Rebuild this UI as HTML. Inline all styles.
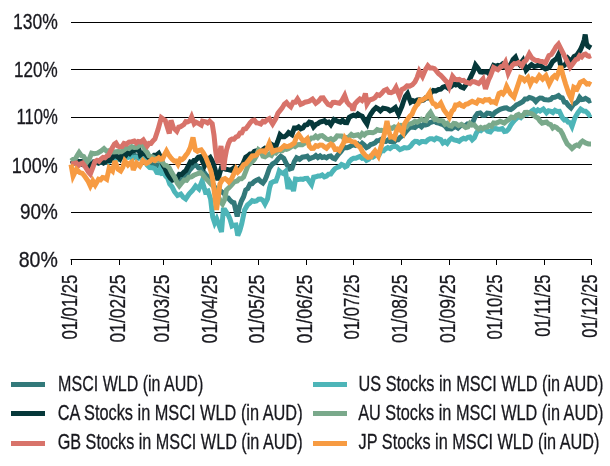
<!DOCTYPE html><html><head><meta charset="utf-8"><style>html,body{margin:0;padding:0;background:#fff;}svg{display:block}text{font-family:"Liberation Sans", "DejaVu Sans", sans-serif;fill:#18181e;stroke:#18181e;stroke-width:0.3px;}</style></head><body>
<svg width="610" height="466" viewBox="0 0 610 466">
<rect width="610" height="466" fill="#fff"/>
<line x1="71" y1="22.5" x2="592" y2="22.5" stroke="#000" stroke-width="1"/>
<line x1="71" y1="69.5" x2="592" y2="69.5" stroke="#000" stroke-width="1"/>
<line x1="71" y1="117.5" x2="592" y2="117.5" stroke="#000" stroke-width="1"/>
<line x1="71" y1="164.5" x2="592" y2="164.5" stroke="#000" stroke-width="1"/>
<line x1="71" y1="212.5" x2="592" y2="212.5" stroke="#000" stroke-width="1"/>
<path d="M71.0,164.0 L73.5,163.4 L76.0,162.0 L78.5,161.4 L81.0,162.0 L83.5,161.7 L86.0,165.0 L88.5,163.9 L91.0,164.0 L93.5,164.2 L96.0,162.0 L98.5,161.7 L101.0,162.0 L103.5,161.8 L106.0,161.0 L108.5,159.0 L111.0,159.5 L113.5,158.2 L116.0,157.5 L118.5,157.3 L121.0,158.0 L123.5,155.7 L126.0,156.0 L128.5,155.1 L131.0,156.0 L133.5,154.5 L136.0,156.0 L138.5,158.1 L141.0,157.5 L143.5,158.8 L146.0,160.0 L148.5,162.1 L151.0,164.0 L153.5,165.5 L156.0,165.0 L158.0,165.9 L160.0,165.5 L163.0,166.0 L165.0,167.3 L167.0,170.0 L169.5,174.4 L172.0,176.0 L174.0,177.2 L176.0,178.0 L178.0,179.9 L180.0,178.6 L182.0,176.5 L184.0,176.0 L187.0,174.3 L189.4,170.4 L191.9,167.5 L194.3,165.0 L196.7,165.6 L198.6,168.1 L200.5,168.5 L203.4,171.4 L205.6,174.5 L207.7,176.7 L210.9,180.0 L214.0,186.0 L216.0,189.1 L218.0,190.0 L220.0,190.6 L222.0,192.0 L224.3,193.6 L226.2,197.3 L228.2,197.9 L230.1,200.4 L232.1,202.2 L234.0,202.7 L237.2,216.5 L239.3,207.1 L241.4,201.0 L243.6,196.7 L245.7,190.0 L247.8,188.6 L250.0,184.0 L252.2,183.6 L254.3,181.5 L256.5,180.2 L258.6,179.3 L260.8,181.6 L262.9,183.0 L265.0,180.0 L266.5,176.5 L269.5,168.0 L272.5,164.0 L275.5,162.3 L278.5,158.5 L280.8,156.3 L283.8,158.5 L286.8,164.5 L289.8,169.0 L292.0,168.3 L294.3,161.5 L296.6,157.8 L299.6,159.3 L302.3,157.2 L305.0,156.8 L307.2,156.1 L309.3,158.9 L311.5,157.9 L313.6,157.2 L315.8,155.5 L317.9,157.5 L320.1,155.9 L322.2,157.5 L324.3,156.8 L326.5,157.9 L328.6,156.3 L330.7,155.9 L332.9,158.2 L335.0,159.0 L337.2,155.8 L339.1,153.5 L341.0,151.5 L343.0,148.6 L345.0,147.5 L347.1,147.8 L349.3,146.9 L351.4,145.7 L353.6,144.8 L355.7,145.5 L357.9,144.0 L360.0,146.1 L362.2,143.3 L364.3,145.1 L366.5,147.6 L368.6,146.5 L370.7,144.5 L372.9,143.9 L375.0,143.0 L377.1,140.7 L379.3,140.5 L381.5,139.2 L383.6,141.4 L385.8,141.5 L387.9,140.1 L390.0,141.5 L392.2,141.2 L394.3,141.7 L396.5,139.4 L398.2,139.6 L400.0,137.5 L403.0,135.5 L406.4,131.0 L408.6,128.5 L410.7,127.2 L412.9,127.0 L415.0,127.6 L417.2,125.7 L419.3,125.0 L421.5,126.8 L423.6,124.5 L425.8,125.0 L427.9,124.3 L430.1,122.6 L432.2,122.0 L434.3,120.8 L436.5,122.6 L438.6,123.0 L440.7,124.0 L442.9,124.6 L445.0,126.0 L447.2,128.8 L449.3,128.7 L451.5,129.0 L453.7,127.5 L455.8,126.6 L458.0,128.0 L460.3,125.9 L462.7,125.4 L465.0,126.0 L467.5,123.9 L470.0,124.5 L472.5,123.0 L475.0,117.0 L477.5,113.5 L480.2,112.9 L482.9,115.5 L485.0,115.3 L487.2,113.0 L489.9,113.3 L492.6,115.0 L495.2,112.3 L497.9,110.7 L500.1,109.4 L502.2,108.7 L504.4,108.0 L506.5,107.9 L508.7,109.1 L510.8,109.5 L512.5,108.5 L514.3,107.0 L516.5,104.8 L518.6,104.0 L520.8,102.8 L522.9,101.5 L525.0,99.0 L527.2,99.0 L529.4,97.4 L531.5,98.0 L533.6,99.1 L535.8,101.5 L537.9,99.2 L540.0,98.0 L542.1,98.1 L544.3,99.5 L546.5,99.8 L548.6,100.0 L550.7,99.4 L552.7,97.5 L554.7,97.3 L556.6,96.5 L558.5,95.6 L560.4,97.4 L562.3,97.9 L564.3,102.0 L566.2,102.5 L568.2,105.3 L571.0,108.0 L573.5,104.4 L575.9,103.0 L577.8,101.3 L579.7,97.4 L581.7,99.6 L583.6,99.4 L585.5,98.3 L587.5,99.5 L589.2,100.9 L591.0,100.2" fill="none" stroke="#32797a" stroke-width="5" stroke-linejoin="miter" stroke-miterlimit="3.2" stroke-linecap="butt"/>
<path d="M71.0,164.0 L73.5,163.9 L76.0,162.0 L78.5,162.1 L81.0,162.0 L83.5,163.1 L86.0,165.0 L88.5,163.5 L91.0,164.0 L93.5,161.9 L96.0,162.0 L98.5,163.3 L101.0,162.0 L103.7,162.2 L106.3,162.3 L108.7,162.1 L111.0,160.0 L113.5,159.4 L116.0,158.0 L118.5,159.4 L121.0,158.0 L124.0,155.5 L126.0,157.1 L128.0,157.4 L130.2,156.0 L132.3,158.8 L134.5,157.4 L136.7,157.3 L138.8,157.2 L141.0,158.0 L142.8,158.1 L144.6,159.5 L147.1,165.1 L149.7,167.5 L152.3,167.7 L154.9,168.8 L156.8,172.5 L158.7,172.7 L160.0,169.5 L161.9,173.5 L163.9,173.1 L165.8,176.2 L167.8,178.4 L169.7,184.0 L172.1,186.8 L174.5,191.7 L177.5,195.5 L180.8,194.0 L183.2,197.2 L185.7,199.0 L189.0,194.0 L192.3,190.6 L195.6,186.0 L198.9,189.0 L202.1,181.0 L205.4,192.0 L208.0,191.0 L210.6,199.0 L212.7,217.0 L214.7,223.0 L216.7,219.0 L218.6,224.0 L221.5,232.0 L223.3,210.0 L225.0,210.0 L228.2,215.0 L230.1,219.3 L232.0,226.0 L233.9,225.2 L235.9,225.0 L237.8,235.5 L239.8,230.7 L241.7,224.0 L244.6,210.0 L247.5,205.0 L250.0,203.0 L252.2,200.6 L254.3,201.4 L256.5,201.0 L258.6,199.2 L260.8,199.0 L262.9,200.2 L265.0,204.0 L267.5,199.0 L269.5,188.0 L271.0,183.0 L273.5,181.5 L276.0,181.0 L277.5,177.0 L279.3,171.0 L281.0,172.5 L283.2,173.5 L285.5,171.5 L288.0,189.0 L290.0,182.5 L292.0,186.0 L293.5,191.0 L295.5,179.0 L298.6,179.4 L300.8,179.1 L302.9,179.4 L305.0,178.5 L307.2,178.3 L309.4,181.5 L311.5,184.5 L313.6,177.2 L315.8,176.8 L317.9,176.1 L320.0,176.1 L322.2,175.0 L324.4,176.9 L326.5,176.1 L328.6,174.1 L330.8,174.0 L332.9,171.1 L335.0,168.6 L337.2,167.4 L339.4,166.5 L341.5,164.5 L343.6,165.4 L345.0,166.9 L347.1,165.9 L349.3,161.5 L351.5,159.4 L353.6,158.3 L355.8,158.3 L357.9,157.2 L360.0,156.4 L362.2,158.3 L364.4,158.0 L366.5,160.4 L368.6,159.3 L370.8,156.1 L372.9,157.1 L375.1,155.8 L377.2,154.0 L379.3,154.4 L381.5,150.2 L383.6,150.8 L385.7,148.8 L387.9,147.5 L390.0,148.6 L392.2,146.8 L394.3,146.2 L396.5,146.5 L398.2,148.1 L400.0,149.7 L402.1,148.8 L404.3,147.6 L406.4,148.0 L408.6,147.6 L410.7,145.9 L412.9,142.9 L415.0,141.3 L417.2,141.5 L419.3,143.0 L421.5,141.6 L423.6,141.6 L425.7,141.9 L427.9,139.9 L430.0,138.8 L432.1,138.8 L434.3,139.8 L436.5,138.1 L438.6,138.8 L440.8,139.6 L442.9,143.0 L445.0,141.6 L447.2,143.4 L449.4,140.1 L451.5,138.3 L454.2,140.0 L456.9,140.5 L459.1,141.3 L461.4,139.4 L463.6,138.3 L465.7,139.0 L467.9,137.3 L470.0,137.0 L472.2,139.8 L474.4,137.8 L476.5,132.8 L478.6,130.1 L480.8,130.7 L482.9,128.8 L485.0,128.6 L487.7,131.2 L490.4,131.9 L493.1,128.7 L495.8,128.6 L497.9,129.2 L500.1,129.2 L502.2,128.6 L504.4,131.5 L506.5,131.2 L508.6,129.1 L510.8,125.0 L512.5,122.7 L514.3,120.6 L516.5,118.4 L518.6,116.5 L520.8,117.6 L522.9,115.3 L525.0,114.0 L527.2,114.3 L529.4,113.3 L531.5,111.1 L533.6,109.7 L535.8,111.8 L537.9,109.9 L540.0,111.1 L543.3,109.0 L546.5,112.8 L548.6,110.7 L550.8,111.3 L552.9,112.5 L555.0,110.3 L557.2,111.5 L559.4,111.3 L562.6,118.0 L564.4,120.1 L566.2,119.7 L568.2,122.2 L570.1,122.6 L572.0,126.5 L574.9,117.8 L577.8,113.0 L580.7,109.1 L583.6,111.1 L585.5,111.2 L587.5,113.0 L589.2,115.0 L591.0,114.0" fill="none" stroke="#4db5b8" stroke-width="5" stroke-linejoin="miter" stroke-miterlimit="3.2" stroke-linecap="butt"/>
<path d="M71.0,164.0 L73.5,162.7 L76.0,162.0 L78.5,161.4 L81.0,161.5 L83.0,164.7 L85.0,165.0 L87.5,167.5 L90.0,164.0 L92.0,164.8 L94.0,162.0 L96.0,162.0 L98.5,163.0 L101.0,161.5 L103.5,163.1 L106.0,161.5 L108.5,160.3 L110.2,160.4 L112.0,158.0 L114.8,155.1 L118.0,157.0 L120.0,159.0 L122.0,154.5 L124.0,153.5 L126.0,155.0 L128.0,152.0 L129.8,153.5 L131.5,151.5 L134.0,150.5 L136.5,149.8 L138.4,147.5 L140.4,155.0 L143.0,153.1 L145.0,153.7 L147.0,156.0 L149.5,158.1 L152.0,158.0 L154.2,155.3 L156.5,155.2 L158.7,153.4 L161.0,158.0 L162.9,164.7 L165.3,169.1 L167.7,174.3 L170.1,177.9 L172.5,180.1 L175.4,179.1 L177.4,177.7 L179.3,174.3 L181.7,174.4 L184.1,172.0 L185.9,170.7 L187.7,167.0 L190.3,162.0 L192.1,162.6 L193.8,160.5 L195.4,160.6 L198.3,157.3 L200.6,156.7 L202.6,161.6 L204.5,165.7 L207.7,159.3 L210.2,157.5 L212.8,162.0 L214.7,168.3 L217.9,180.0 L219.6,173.6 L221.3,168.0 L224.0,168.6 L226.0,169.2 L228.0,169.6 L230.8,170.2 L234.2,167.6 L237.6,170.2 L241.0,166.7 L243.3,163.0 L245.7,157.2 L247.8,156.0 L250.0,154.0 L252.2,154.0 L254.3,151.4 L256.5,150.8 L258.6,152.1 L260.8,151.5 L262.9,149.7 L265.0,148.1 L267.2,148.6 L269.4,147.6 L271.5,144.4 L273.6,145.6 L275.8,146.5 L277.9,141.0 L280.0,134.7 L282.2,136.8 L284.4,136.8 L286.5,135.3 L288.6,132.6 L291.9,134.7 L294.3,128.0 L296.5,128.1 L298.6,126.9 L300.8,128.8 L302.9,128.0 L305.0,125.1 L307.2,124.7 L309.4,122.1 L311.5,122.6 L313.6,126.9 L315.8,124.5 L317.9,123.6 L320.0,122.0 L322.2,121.5 L324.4,120.7 L326.5,122.6 L328.6,122.0 L330.8,124.7 L334.0,119.4 L336.1,120.4 L338.3,121.5 L340.5,122.2 L342.6,120.4 L344.8,122.5 L346.9,122.6 L349.3,117.2 L351.5,116.0 L353.6,115.1 L355.8,115.9 L357.9,114.0 L360.0,115.4 L362.2,116.2 L364.6,120.4 L367.0,124.0 L368.9,117.4 L370.8,114.0 L373.5,110.1 L376.1,107.6 L378.2,108.8 L380.4,110.8 L383.1,108.2 L385.8,108.6 L388.0,109.2 L390.1,110.8 L392.8,109.6 L395.4,107.6 L398.6,114.0 L401.9,106.5 L403.2,102.2 L405.4,96.4 L407.5,93.6 L410.7,102.2 L412.9,100.7 L415.0,101.8 L417.2,100.1 L419.3,99.7 L421.5,100.6 L423.6,100.1 L425.8,97.8 L427.9,97.9 L430.6,93.1 L433.3,90.4 L436.0,90.9 L438.6,89.4 L440.8,89.2 L442.9,87.2 L445.6,86.3 L448.3,88.3 L451.0,86.6 L453.6,84.0 L455.8,85.0 L458.0,84.0 L460.8,86.9 L463.6,87.9 L466.8,83.6 L469.0,80.7 L471.1,76.1 L473.3,71.6 L475.5,65.0 L477.9,68.1 L480.3,72.0 L482.6,72.3 L485.0,71.8 L487.1,72.0 L489.3,74.0 L491.5,69.9 L493.6,65.4 L495.8,66.3 L497.9,65.4 L500.0,66.1 L502.2,64.3 L504.4,66.8 L506.5,67.6 L508.6,66.6 L510.8,64.3 L513.1,59.4 L515.4,57.2 L517.5,62.4 L519.7,64.7 L522.9,60.4 L526.1,70.1 L528.8,67.0 L531.5,64.7 L534.1,66.6 L536.8,65.8 L539.5,64.8 L542.2,66.8 L545.4,69.0 L547.5,68.2 L549.7,66.8 L552.7,61.5 L554.7,60.0 L556.6,58.6 L558.5,54.7 L560.4,64.4 L562.3,66.6 L564.3,65.4 L566.2,62.9 L568.2,58.6 L571.1,61.5 L574.0,56.7 L577.0,55.0 L580.3,50.0 L582.3,45.5 L584.2,40.0 L585.2,34.5 L586.4,43.0 L587.7,46.0 L591.0,48.0" fill="none" stroke="#06383a" stroke-width="5" stroke-linejoin="miter" stroke-miterlimit="3.2" stroke-linecap="butt"/>
<path d="M71.0,161.0 L73.0,159.5 L75.5,158.5 L77.5,155.0 L79.1,152.5 L81.4,155.7 L83.7,156.5 L87.0,162.0 L89.3,159.0 L91.6,153.2 L94.2,153.8 L97.5,153.2 L100.8,151.1 L104.0,148.6 L106.7,151.2 L108.6,150.7 L110.5,152.5 L112.2,151.5 L114.0,152.0 L116.0,151.7 L118.0,151.5 L121.4,151.8 L124.0,150.0 L126.5,148.1 L129.0,148.6 L131.7,146.6 L134.3,147.5 L136.9,147.4 L139.4,145.5 L141.4,145.1 L143.3,146.0 L145.2,150.1 L147.2,152.5 L149.1,155.9 L151.0,156.3 L152.9,157.1 L154.9,158.3 L156.8,160.3 L158.7,160.5 L160.6,159.9 L162.6,162.6 L164.6,165.2 L166.5,165.5 L169.1,167.7 L171.6,172.4 L175.0,178.0 L177.2,183.1 L179.3,185.9 L181.7,183.0 L184.1,180.1 L186.6,180.3 L189.0,177.2 L191.4,176.9 L193.8,175.3 L196.2,174.2 L198.6,173.3 L200.6,172.5 L202.5,174.3 L205.4,178.2 L208.3,181.1 L211.0,184.0 L213.5,186.4 L216.0,192.0 L219.0,198.0 L220.8,202.1 L222.5,204.0 L224.5,200.0 L226.5,190.0 L229.0,187.7 L231.5,185.0 L234.3,181.9 L237.2,181.0 L239.3,178.8 L241.5,178.8 L243.6,177.0 L245.8,171.4 L247.9,165.8 L250.0,163.8 L252.2,161.7 L254.3,159.4 L256.5,155.8 L258.6,149.7 L260.8,151.3 L262.9,156.2 L265.0,156.8 L267.2,155.3 L269.3,154.0 L271.5,155.3 L273.6,152.1 L275.8,153.0 L277.9,150.6 L280.1,150.8 L282.2,150.8 L284.3,149.0 L286.5,149.5 L288.6,148.6 L290.7,147.1 L292.9,145.5 L295.0,146.5 L297.5,144.7 L300.0,144.5 L302.4,144.7 L304.8,143.2 L307.2,140.2 L309.3,140.1 L311.5,138.0 L313.6,138.0 L315.7,136.0 L317.9,137.8 L320.0,135.9 L322.2,135.6 L324.3,137.2 L326.5,139.1 L328.6,139.7 L330.8,138.6 L332.9,140.2 L335.1,138.6 L337.2,135.8 L339.4,135.9 L341.5,135.9 L343.7,138.0 L345.8,137.5 L348.6,137.3 L351.4,134.5 L353.6,135.8 L355.7,135.3 L357.9,134.8 L360.0,136.6 L362.2,133.5 L364.3,135.0 L366.5,133.0 L368.6,132.5 L370.8,132.5 L372.9,132.7 L375.1,131.7 L377.2,129.6 L379.3,130.4 L381.5,130.2 L383.6,131.2 L385.7,129.7 L387.9,130.6 L390.0,128.0 L392.2,128.4 L394.3,126.9 L396.5,128.0 L398.7,125.7 L400.8,125.3 L403.0,126.2 L406.4,127.0 L408.6,124.0 L410.7,123.8 L412.9,122.8 L415.0,121.4 L417.2,122.2 L419.3,121.0 L421.5,119.2 L423.6,120.2 L425.8,120.6 L428.1,115.4 L430.5,112.5 L433.0,117.0 L434.8,119.5 L436.5,119.0 L438.6,120.7 L440.8,120.6 L442.9,121.0 L445.1,124.3 L447.2,123.3 L449.4,125.5 L451.5,126.1 L453.7,123.4 L455.8,123.7 L458.6,125.7 L461.4,124.3 L463.5,125.8 L465.7,127.5 L467.9,126.8 L470.0,123.3 L472.2,125.1 L474.3,124.8 L476.5,127.5 L478.6,128.9 L480.8,127.4 L482.9,128.6 L485.0,127.2 L487.2,127.0 L489.3,125.4 L491.5,126.2 L493.6,122.9 L495.8,123.3 L497.9,122.4 L500.1,121.3 L502.2,122.1 L504.3,123.0 L506.5,121.1 L508.6,119.7 L511.4,117.1 L514.3,117.9 L516.5,115.4 L518.6,114.5 L520.8,116.5 L522.9,115.8 L525.0,112.4 L527.2,112.3 L529.4,113.1 L531.5,113.6 L533.6,115.1 L535.8,116.8 L537.9,118.0 L540.0,121.1 L542.1,123.1 L544.3,122.5 L546.5,122.0 L548.6,124.0 L550.7,124.6 L552.8,128.0 L554.7,126.6 L556.6,127.5 L558.5,129.5 L560.4,130.4 L562.5,134.0 L564.3,138.1 L567.2,143.9 L570.1,146.5 L572.0,148.5 L574.9,145.8 L576.8,145.0 L578.8,145.8 L580.7,142.6 L582.6,141.0 L585.5,142.9 L588.4,143.9 L591.0,143.9" fill="none" stroke="#7aa98b" stroke-width="5" stroke-linejoin="miter" stroke-miterlimit="3.2" stroke-linecap="butt"/>
<path d="M71.0,164.0 L74.0,163.5 L76.3,163.0 L78.6,165.5 L80.5,163.9 L82.5,163.0 L85.4,167.0 L88.5,172.0 L90.3,174.0 L93.0,167.0 L95.0,161.5 L97.0,160.3 L99.0,161.4 L101.0,159.0 L103.0,157.4 L105.0,157.8 L106.8,156.1 L108.5,155.4 L111.6,149.0 L114.5,144.0 L116.0,143.0 L117.8,146.0 L119.5,146.7 L122.0,146.5 L124.0,143.5 L126.5,144.2 L129.0,142.0 L131.7,141.6 L134.3,141.0 L136.2,142.9 L138.2,141.5 L140.8,142.0 L143.3,140.0 L145.2,143.1 L147.2,146.0 L149.1,143.4 L151.0,143.5 L152.9,141.0 L154.9,139.0 L158.1,129.3 L161.3,117.7 L163.2,119.1 L165.2,120.3 L167.0,126.0 L169.3,133.5 L171.0,120.3 L173.5,128.0 L176.8,131.2 L178.7,127.2 L180.6,126.7 L183.9,124.5 L185.8,121.5 L187.7,121.9 L189.6,121.0 L191.6,116.7 L194.2,123.8 L196.1,122.2 L198.0,123.2 L201.2,125.1 L202.5,121.2 L205.7,121.9 L207.6,123.0 L209.6,121.2 L212.2,123.8 L214.0,135.0 L215.5,150.0 L217.0,160.0 L218.5,163.0 L220.0,152.0 L221.0,146.0 L222.5,160.0 L223.5,170.0 L225.0,158.0 L226.5,150.0 L228.5,143.5 L230.2,140.1 L232.0,139.0 L234.0,139.1 L236.0,137.0 L238.0,136.3 L240.0,133.0 L241.8,132.8 L243.6,129.3 L245.8,128.8 L247.9,126.1 L250.1,122.8 L252.2,120.8 L254.3,120.1 L256.5,122.9 L258.6,123.1 L260.8,124.0 L262.9,121.3 L265.0,121.8 L267.1,119.7 L269.3,118.6 L272.6,124.0 L275.8,118.6 L277.9,113.2 L280.0,110.6 L282.2,107.9 L284.4,104.1 L286.5,102.5 L288.6,105.0 L290.8,106.8 L293.2,102.2 L295.4,102.2 L297.5,99.0 L300.7,104.3 L302.9,103.4 L305.0,102.2 L307.1,101.8 L309.3,101.1 L312.5,99.0 L315.8,103.3 L318.5,101.3 L321.1,97.9 L323.2,97.8 L325.4,101.1 L328.1,104.3 L330.8,105.4 L332.9,102.4 L335.0,102.2 L337.2,102.8 L339.4,103.3 L342.0,100.5 L344.7,95.5 L347.0,102.0 L349.5,105.0 L351.5,106.0 L353.0,110.5 L354.8,104.0 L357.5,101.0 L359.8,99.0 L362.0,100.5 L364.3,97.0 L365.4,93.5 L367.0,104.0 L369.5,100.0 L372.9,99.0 L375.0,97.6 L377.2,94.7 L379.4,95.4 L381.5,93.6 L384.1,90.5 L386.8,89.3 L389.0,92.4 L391.1,92.6 L393.6,91.6 L396.0,87.5 L399.4,96.0 L401.8,89.5 L404.3,88.3 L407.0,85.9 L409.7,86.1 L412.4,84.8 L415.0,81.8 L417.1,77.6 L419.3,71.1 L422.5,76.5 L425.2,70.2 L427.9,65.8 L430.0,67.9 L432.2,67.9 L434.4,68.7 L436.5,71.1 L438.6,73.8 L440.8,75.4 L442.9,77.6 L445.0,80.0 L447.1,82.2 L449.2,87.0 L452.6,76.5 L454.8,79.2 L456.9,79.7 L459.3,79.4 L461.5,80.7 L463.6,80.4 L465.8,82.3 L467.9,82.6 L470.0,83.5 L472.2,81.5 L474.4,81.7 L476.5,82.6 L478.6,83.5 L480.8,81.5 L483.0,79.0 L485.5,89.0 L488.5,80.0 L490.4,76.1 L493.6,67.6 L495.8,68.7 L497.9,69.7 L501.1,66.5 L503.2,65.9 L505.4,62.2 L508.2,73.0 L510.2,68.6 L512.3,65.3 L514.3,63.6 L516.5,63.7 L518.6,62.6 L521.8,65.8 L524.0,61.8 L526.1,60.4 L529.3,54.0 L531.5,57.6 L533.6,59.3 L535.8,60.4 L537.9,60.4 L540.0,61.3 L542.2,61.5 L545.5,63.0 L548.9,55.7 L551.3,54.6 L553.7,50.9 L556.1,46.8 L558.5,44.1 L561.4,49.9 L564.3,55.7 L567.2,61.5 L570.1,67.3 L573.0,63.4 L575.9,59.6 L577.8,58.9 L579.7,55.7 L581.7,56.9 L583.6,54.7 L585.5,54.1 L587.5,55.7 L589.2,56.4 L591.0,55.7" fill="none" stroke="#d8736a" stroke-width="5" stroke-linejoin="miter" stroke-miterlimit="3.2" stroke-linecap="butt"/>
<path d="M71.0,164.5 L73.1,176.0 L76.4,169.3 L79.7,172.6 L82.2,173.2 L84.6,176.0 L88.0,181.0 L90.3,186.0 L92.8,180.8 L95.2,185.0 L98.5,179.2 L100.5,179.9 L102.6,177.5 L104.7,177.9 L106.7,179.2 L109.2,168.0 L112.5,171.0 L114.9,161.0 L118.2,169.3 L120.7,171.0 L122.8,167.2 L124.8,161.0 L128.0,165.0 L129.8,163.3 L131.7,162.0 L133.3,170.0 L136.5,163.0 L139.8,166.0 L143.0,160.5 L146.3,163.5 L149.7,161.5 L152.3,159.2 L154.9,160.5 L156.8,158.9 L158.7,157.7 L160.6,159.4 L162.6,159.0 L164.6,154.7 L166.5,151.0 L168.4,154.5 L170.3,157.0 L172.2,159.3 L174.2,161.0 L176.1,161.0 L178.0,164.2 L180.3,159.0 L182.2,159.5 L184.0,158.0 L185.8,155.3 L187.7,153.0 L190.3,147.6 L193.0,137.5 L195.4,150.0 L197.4,151.3 L199.3,150.3 L201.2,149.8 L203.2,152.5 L205.7,157.0 L208.3,164.0 L210.9,171.0 L212.8,180.0 L214.7,195.0 L216.5,210.0 L218.6,195.0 L219.9,184.0 L222.5,179.5 L225.0,178.5 L226.9,179.8 L228.9,182.0 L231.5,179.0 L234.0,173.5 L236.0,169.0 L237.9,172.0 L240.0,170.0 L241.8,167.5 L243.6,164.7 L245.8,163.9 L247.9,161.5 L250.1,158.6 L252.2,156.0 L254.3,155.8 L256.5,155.0 L258.6,152.1 L260.8,151.0 L262.9,150.8 L265.0,152.0 L267.1,148.6 L269.3,143.3 L272.6,151.9 L275.2,150.3 L277.9,149.7 L280.0,149.5 L282.2,147.6 L284.4,145.6 L286.5,146.5 L288.6,146.2 L290.8,145.4 L292.6,144.1 L294.3,143.0 L296.5,137.0 L298.6,134.4 L300.8,137.7 L302.9,140.8 L305.0,140.7 L307.2,138.7 L309.3,146.2 L311.5,148.4 L313.6,148.3 L315.8,145.6 L317.9,146.2 L320.0,145.0 L322.2,145.1 L324.4,146.9 L326.5,148.3 L328.6,145.8 L330.8,144.0 L332.9,145.3 L335.0,149.4 L337.2,148.9 L339.4,150.5 L341.5,146.8 L343.6,143.0 L345.0,137.9 L347.1,140.6 L349.3,140.0 L352.0,141.6 L354.7,142.0 L357.4,145.4 L360.0,147.0 L362.7,152.2 L365.4,155.5 L368.1,157.4 L370.8,157.0 L372.9,153.5 L375.0,151.0 L378.3,156.0 L381.5,145.0 L384.7,133.0 L387.0,121.0 L388.8,130.8 L390.5,137.0 L392.4,136.6 L394.4,138.0 L396.5,130.8 L398.6,126.5 L400.8,130.4 L403.0,133.0 L404.3,124.3 L407.1,119.8 L410.0,116.0 L412.0,114.3 L414.0,109.4 L416.0,106.0 L418.0,104.1 L420.0,100.0 L422.0,100.2 L424.0,99.0 L426.8,97.2 L429.5,93.0 L431.2,99.9 L433.0,103.5 L434.8,104.0 L436.5,106.5 L438.6,105.6 L440.8,103.0 L444.0,110.0 L447.0,114.0 L449.3,117.5 L452.0,111.0 L453.8,109.5 L455.5,105.0 L457.5,105.1 L459.4,103.8 L461.4,105.5 L463.6,106.3 L465.7,104.2 L467.9,103.8 L470.0,102.4 L472.2,101.3 L474.3,102.2 L476.5,103.2 L478.6,100.1 L480.8,100.6 L482.9,101.6 L485.1,99.7 L487.2,100.0 L489.1,99.6 L491.1,102.2 L493.0,101.6 L495.8,103.0 L499.0,93.5 L501.0,92.5 L503.0,94.0 L504.8,91.5 L506.6,86.5 L508.6,90.3 L510.7,93.9 L513.9,97.1 L517.2,87.3 L520.5,77.5 L522.5,78.2 L524.6,80.7 L527.9,77.5 L530.3,84.0 L532.8,79.1 L536.1,80.7 L539.3,75.8 L542.6,79.1 L545.9,75.8 L549.2,84.0 L552.5,77.5 L554.5,75.8 L556.6,77.5 L558.7,72.0 L560.7,66.0 L563.1,75.8 L565.6,84.0 L568.9,93.9 L571.3,98.8 L573.8,87.3 L577.0,89.0 L580.3,82.4 L583.6,80.7 L586.9,84.0 L589.0,83.7 L591.0,84.8" fill="none" stroke="#f79b42" stroke-width="5" stroke-linejoin="miter" stroke-miterlimit="3.2" stroke-linecap="butt"/>
<line x1="70.5" y1="259.5" x2="592" y2="259.5" stroke="#000" stroke-width="1"/>
<line x1="71.5" y1="259" x2="71.5" y2="265" stroke="#000" stroke-width="1"/>
<line x1="119.5" y1="259" x2="119.5" y2="265" stroke="#000" stroke-width="1"/>
<line x1="163.5" y1="259" x2="163.5" y2="265" stroke="#000" stroke-width="1"/>
<line x1="211.5" y1="259" x2="211.5" y2="265" stroke="#000" stroke-width="1"/>
<line x1="258.5" y1="259" x2="258.5" y2="265" stroke="#000" stroke-width="1"/>
<line x1="306.5" y1="259" x2="306.5" y2="265" stroke="#000" stroke-width="1"/>
<line x1="353.5" y1="259" x2="353.5" y2="265" stroke="#000" stroke-width="1"/>
<line x1="401.5" y1="259" x2="401.5" y2="265" stroke="#000" stroke-width="1"/>
<line x1="449.5" y1="259" x2="449.5" y2="265" stroke="#000" stroke-width="1"/>
<line x1="496.5" y1="259" x2="496.5" y2="265" stroke="#000" stroke-width="1"/>
<line x1="544.5" y1="259" x2="544.5" y2="265" stroke="#000" stroke-width="1"/>
<line x1="591.5" y1="259" x2="591.5" y2="265" stroke="#000" stroke-width="1"/>
<text x="57.8" y="29.1" font-size="21.5" text-anchor="end" textLength="44.8" lengthAdjust="spacingAndGlyphs">130%</text>
<text x="57.8" y="77.4" font-size="21.5" text-anchor="end" textLength="43.7" lengthAdjust="spacingAndGlyphs">120%</text>
<text x="57.8" y="124.4" font-size="21.5" text-anchor="end" textLength="41.3" lengthAdjust="spacingAndGlyphs">110%</text>
<text x="57.8" y="172.5" font-size="21.5" text-anchor="end" textLength="46" lengthAdjust="spacingAndGlyphs">100%</text>
<text x="57.8" y="219.4" font-size="21.5" text-anchor="end" textLength="37.8" lengthAdjust="spacingAndGlyphs">90%</text>
<text x="57.8" y="266.9" font-size="21.5" text-anchor="end" textLength="39.1" lengthAdjust="spacingAndGlyphs">80%</text>
<text transform="translate(76.8,274.6) rotate(-90)" font-size="21.5" text-anchor="end" textLength="65" lengthAdjust="spacingAndGlyphs">01/01/25</text>
<text transform="translate(125.1,274.6) rotate(-90)" font-size="21.5" text-anchor="end" textLength="67.8" lengthAdjust="spacingAndGlyphs">01/02/25</text>
<text transform="translate(168.7,274.6) rotate(-90)" font-size="21.5" text-anchor="end" textLength="67.8" lengthAdjust="spacingAndGlyphs">01/03/25</text>
<text transform="translate(216.9,274.6) rotate(-90)" font-size="21.5" text-anchor="end" textLength="68.8" lengthAdjust="spacingAndGlyphs">01/04/25</text>
<text transform="translate(263.6,274.6) rotate(-90)" font-size="21.5" text-anchor="end" textLength="68.8" lengthAdjust="spacingAndGlyphs">01/05/25</text>
<text transform="translate(311.9,274.6) rotate(-90)" font-size="21.5" text-anchor="end" textLength="68.8" lengthAdjust="spacingAndGlyphs">01/06/25</text>
<text transform="translate(358.6,274.6) rotate(-90)" font-size="21.5" text-anchor="end" textLength="64.8" lengthAdjust="spacingAndGlyphs">01/07/25</text>
<text transform="translate(406.9,274.6) rotate(-90)" font-size="21.5" text-anchor="end" textLength="68.3" lengthAdjust="spacingAndGlyphs">01/08/25</text>
<text transform="translate(455.1,274.6) rotate(-90)" font-size="21.5" text-anchor="end" textLength="68.3" lengthAdjust="spacingAndGlyphs">01/09/25</text>
<text transform="translate(501.8,274.6) rotate(-90)" font-size="21.5" text-anchor="end" textLength="64.8" lengthAdjust="spacingAndGlyphs">01/10/25</text>
<text transform="translate(550.1,274.6) rotate(-90)" font-size="21.5" text-anchor="end" textLength="62.2" lengthAdjust="spacingAndGlyphs">01/11/25</text>
<text transform="translate(596.8,274.6) rotate(-90)" font-size="21.5" text-anchor="end" textLength="63.1" lengthAdjust="spacingAndGlyphs">01/12/25</text>
<rect x="11" y="382" width="34" height="5" fill="#32797a"/>
<text x="58.1" y="390.5" font-size="22" textLength="145.2" lengthAdjust="spacingAndGlyphs">MSCI WLD (in AUD)</text>
<rect x="11" y="411" width="34" height="5" fill="#06383a"/>
<text x="57.7" y="419.6" font-size="22" textLength="244.9" lengthAdjust="spacingAndGlyphs">CA Stocks in MSCI WLD (in AUD)</text>
<rect x="11" y="441" width="34" height="5" fill="#d8736a"/>
<text x="57.7" y="448.9" font-size="22" textLength="244.9" lengthAdjust="spacingAndGlyphs">GB Stocks in MSCI WLD (in AUD)</text>
<rect x="313" y="382" width="34" height="5" fill="#4db5b8"/>
<text x="358.6" y="390.5" font-size="22" textLength="244.8" lengthAdjust="spacingAndGlyphs">US Stocks in MSCI WLD (in AUD)</text>
<rect x="313" y="411" width="34" height="5" fill="#7aa98b"/>
<text x="358.2" y="419.6" font-size="22" textLength="245.2" lengthAdjust="spacingAndGlyphs">AU Stocks in MSCI WLD (in AUD)</text>
<rect x="313" y="441" width="34" height="5" fill="#f79b42"/>
<text x="358.6" y="448.9" font-size="22" textLength="240.9" lengthAdjust="spacingAndGlyphs">JP Stocks in MSCI WLD (in AUD)</text>
</svg></body></html>
